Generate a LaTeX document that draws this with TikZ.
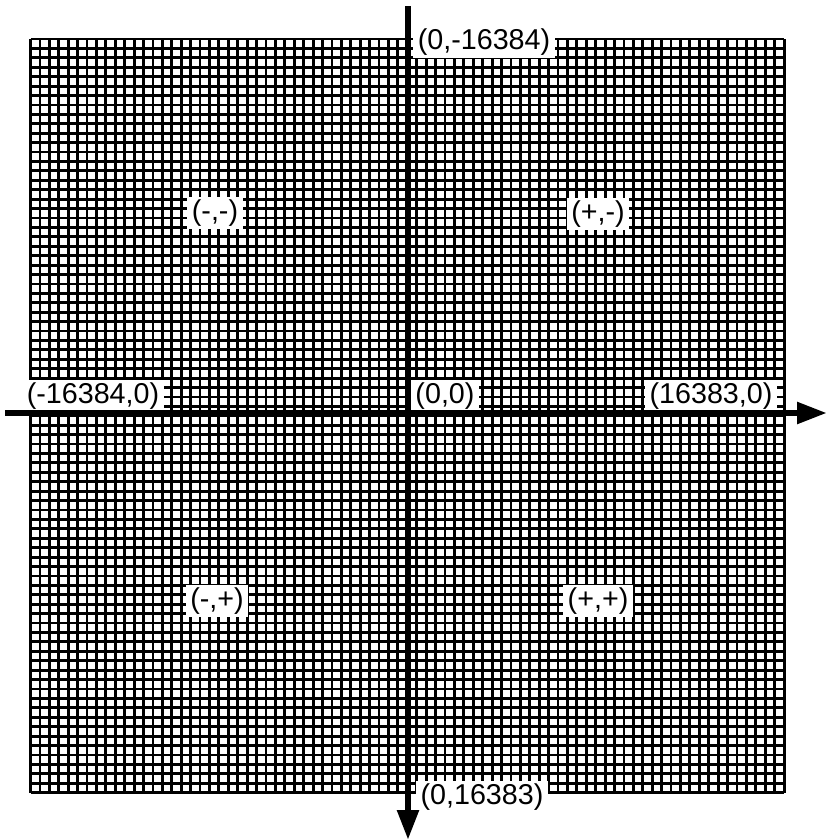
\documentclass[tikz,border=0pt]{standalone}
\usepackage{fontspec}
\setmainfont{Liberation Sans}
\usepackage{tikz}
\usetikzlibrary{arrows.meta}

\begin{document}
\begin{tikzpicture}[
    x=0.03cm, y=-0.03cm,
    axis/.style={line width=0.19cm, -{Triangle[length=0.9cm, width=0.62cm]}},
    gridline/.style={line width=0.085cm},
    coordlabel/.style={
        fill=white,
        inner xsep=4pt,
        inner ysep=2.5pt,
        font=\fontsize{24.5}{27}\selectfont
    }
]
\useasboundingbox (0,0) rectangle (827,840);

% grid, 80 x 80 cells
\foreach \i in {0,...,80} {
    \draw[gridline] ({30.5+\i*9.42},39) -- ({30.5+\i*9.42},792.6);
    \draw[gridline] (30.5,{39+\i*9.42}) -- (784.1,{39+\i*9.42});
}

% axis ends
\coordinate (xstart) at (5,413);
\coordinate (xend)   at (827,413);
\coordinate (ystart) at (408,6);
\coordinate (yend)   at (408,840);

% labels
\node[coordlabel] (top)    at (484,42)  {(0,-16384)};
\node[coordlabel] (bottom) at (482,797) {(0,16383)};
\node[coordlabel] (left)   at (93,396)  {(-16384,0)};
\node[coordlabel] (origin) at (445,396) {(0,0)};
\node[coordlabel] (right)  at (711,396) {(16383,0)};
\node[coordlabel] (mm) at (215,213) {(-,-)};
\node[coordlabel] (pm) at (598,214) {(+,-)};
\node[coordlabel] (mp) at (217,601) {(-,+)};
\node[coordlabel] (pp) at (598,601) {(+,+)};

% axes
\draw[axis] (xstart) -- (xend);
\draw[axis] (ystart) -- (yend);

\end{tikzpicture}
\end{document}
